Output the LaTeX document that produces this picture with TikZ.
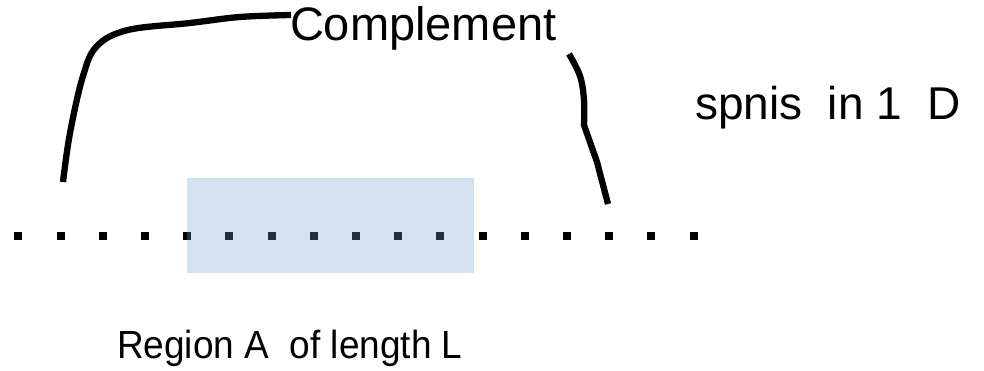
\documentclass[tikz,border=0pt]{standalone}
\usepackage{fontspec}
\setmainfont{Liberation Sans}
\begin{document}
\begin{tikzpicture}[x=1pt,y=-1pt,
  lbl/.style={anchor=base west,inner sep=0pt,outer sep=0pt},
  brace/.style={line width=6.3pt,line cap=butt,line join=round},
  site/.style={fill=black,minimum width=8pt,minimum height=7.5pt,inner sep=0pt},
  region/.style={fill={rgb,255:red,114;green,159;blue,207},fill opacity=0.3}]
\useasboundingbox (0,0) rectangle (984,371);
% lattice sites
\foreach \i in {0,...,16}{
  \node[site] (s\i) at ({18.3+42.2*\i},236) {};
}
% region A
\node[region,anchor=north west,minimum width=287pt,minimum height=95pt,inner sep=0pt] (A) at (187,178) {};
% texts
\node[lbl,font=\fontsize{47}{47}\selectfont] (comp) at (290,41) {Complement};
\node[lbl,font=\fontsize{46}{46}\selectfont] (spins) at (695,120) {spnis\ \ in 1\ \ D};
\node[lbl,font=\fontsize{37}{37}\selectfont,yscale=1.06] (reg) at (117,358) {Region A\ \ of length L};
% brace curves
\coordinate (l0) at (63,182);
\coordinate (l1) at (291,15);
\draw[brace] plot[smooth,tension=0.6] coordinates {(l0) (70,133) (83,76) (97,46) (128,30) (190,23) (240,17) (l1)};
\coordinate (r0) at (569,54);
\coordinate (r1) at (608,204);
\draw[brace] plot[smooth,tension=0.6] coordinates {(r0) (580,76) (584,100) (584,125)} -- (597,162) -- (r1);
\end{tikzpicture}
\end{document}
